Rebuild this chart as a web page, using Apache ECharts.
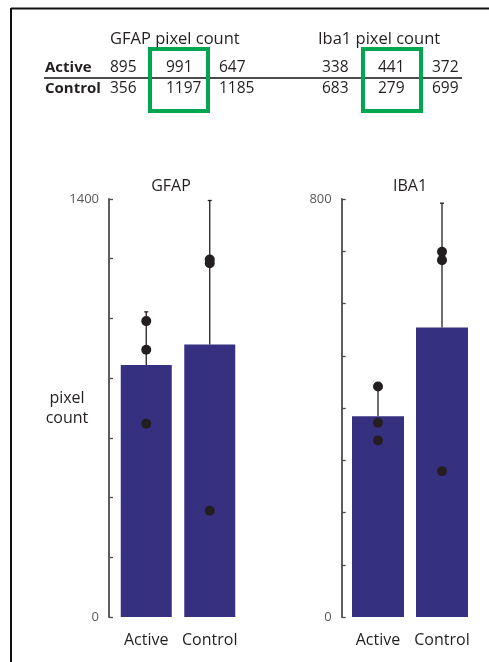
<!DOCTYPE html>
<html>
<head>
<meta charset="utf-8">
<title>GFAP / IBA1 pixel count</title>
<script src="https://cdn.jsdelivr.net/npm/echarts@6/dist/echarts.min.js"></script>
<style>
  html, body { margin: 0; padding: 0; background: #fff; }
  #main { width: 489px; height: 662px; }
</style>
</head>
<body>
<div id="main"></div>
<script type="text/javascript">
    // groups and raw pixel counts (table at the top)
    var groups = ['Active', 'Control'];
    var gfapActive = [895, 991, 647];
    var gfapControl = [356, 1197, 1185];
    var iba1Active = [338, 441, 372];
    var iba1Control = [683, 279, 699];

    // bar heights and top of the whiskers
    var gfapMean = [844, 913];
    var gfapUpper = [1022, 1395];
    var iba1Mean = [384, 554];
    var iba1Upper = [436, 792];

    var FONT = '"Open Sans", sans-serif';
    var INK = '#231f20';
    var BAR = '#35307f';
    var AXIS = '#4d4d4f';

    var myChart = echarts.init(document.getElementById('main'));

    function dots(a, c) {
        var out = [];
        a.forEach(function (v) { out.push([0, v]); });
        c.forEach(function (v) { out.push([1, v]); });
        return out;
    }

    function whiskers(mean, upper) {
        return mean.map(function (m, i) { return [i, m, upper[i]]; });
    }

    function renderWhisker(params, api) {
        var lo = api.coord([api.value(0), api.value(1)]);
        var hi = api.coord([api.value(0), api.value(2)]);
        var st = { stroke: INK, lineWidth: 1.3 };
        return {
            type: 'group',
            children: [
                { type: 'line', shape: { x1: lo[0], y1: lo[1], x2: hi[0], y2: hi[1] }, style: st },
                { type: 'line', shape: { x1: hi[0] - 2, y1: hi[1], x2: hi[0] + 2, y2: hi[1] }, style: st }
            ]
        };
    }

    function yAxisFor(max, step, offset, idx) {
        return {
            type: 'value', gridIndex: idx, min: 0, max: max, interval: step, offset: offset,
            splitLine: { show: false },
            axisLine: { show: true, lineStyle: { color: AXIS, width: 1.8 } },
            axisTick: { show: true, inside: true, length: 4, lineStyle: { color: AXIS, width: 1.3 } },
            axisLabel: {
                margin: 10, color: '#58595b', fontFamily: FONT, fontSize: 13,
                formatter: function (v) { return (v === 0 || v === max) ? String(v) : ''; }
            }
        };
    }

    function xAxisFor(idx) {
        return {
            type: 'category', gridIndex: idx, data: groups,
            axisLine: { show: false }, axisTick: { show: false },
            axisLabel: { interval: 0, margin: 15, color: INK, fontFamily: FONT, fontSize: 16 }
        };
    }

    // text pieces placed by their middle line
    function txt(x, y, s, size, bold, align) {
        return {
            type: 'text',
            style: {
                x: x, y: y, text: s, fill: INK, align: align || 'left', verticalAlign: 'middle',
                font: (bold ? 'bold ' : '') + size + 'px ' + FONT
            }
        };
    }

    var graphics = [];
    graphics.push(txt(110, 39, 'GFAP pixel count', 16.5));
    graphics.push(txt(318, 39, 'Iba1 pixel count', 16.5));
    graphics.push(txt(45, 68, 'Active', 15, true));
    graphics.push(txt(45, 89, 'Control', 15, true));
    var gX = [110, 166, 219], iX = [322, 378, 432];
    gfapActive.forEach(function (v, i) { graphics.push(txt(gX[i], 68, String(v), 15.5)); });
    gfapControl.forEach(function (v, i) { graphics.push(txt(gX[i], 89, String(v), 15.5)); });
    iba1Active.forEach(function (v, i) { graphics.push(txt(iX[i], 68, String(v), 15.5)); });
    iba1Control.forEach(function (v, i) { graphics.push(txt(iX[i], 89, String(v), 15.5)); });
    graphics.push(txt(67, 398, 'pixel', 16, false, 'center'));
    graphics.push(txt(67, 418, 'count', 16, false, 'center'));

    graphics = graphics.concat([
        // frame (only left and top edges are in view)
        { type: 'line', shape: { x1: 11, y1: 8.5, x2: 489, y2: 8.5 }, style: { stroke: '#111', lineWidth: 2 } },
        { type: 'line', shape: { x1: 11, y1: 8, x2: 11, y2: 662 }, style: { stroke: '#111', lineWidth: 2 } },
        { type: 'line', shape: { x1: 44, y1: 78, x2: 462, y2: 78 }, style: { stroke: '#111', lineWidth: 1.3 } },
        { type: 'rect', shape: { x: 150, y: 49, width: 58, height: 62 }, style: { fill: null, stroke: '#00a651', lineWidth: 4 } },
        { type: 'rect', shape: { x: 363, y: 49, width: 58, height: 62 }, style: { fill: null, stroke: '#00a651', lineWidth: 4 } }
    ]);

    myChart.setOption({
        animation: false,
        title: [
            { text: 'GFAP', left: 166, top: 173, textAlign: 'center',
              textStyle: { color: INK, fontFamily: FONT, fontSize: 16, fontWeight: 'normal' } },
            { text: 'IBA1', left: 405, top: 173, textAlign: 'center',
              textStyle: { color: INK, fontFamily: FONT, fontSize: 16, fontWeight: 'normal' } }
        ],
        grid: [
            { left: 114.5, top: 199, width: 127, height: 418 },
            { left: 346, top: 199, width: 128, height: 418 }
        ],
        xAxis: [xAxisFor(0), xAxisFor(1)],
        yAxis: [yAxisFor(1400, 200, 5.5, 0), yAxisFor(800, 100, 4.3, 1)],
        graphic: graphics,
        series: [
            { type: 'bar', xAxisIndex: 0, yAxisIndex: 0, data: gfapMean, barWidth: 51,
              itemStyle: { color: BAR }, z: 2 },
            { type: 'custom', xAxisIndex: 0, yAxisIndex: 0, data: whiskers(gfapMean, gfapUpper),
              renderItem: renderWhisker, z: 3 },
            { type: 'scatter', xAxisIndex: 0, yAxisIndex: 0, data: dots(gfapActive, gfapControl),
              symbolSize: 10, itemStyle: { color: INK, opacity: 1 }, z: 4 },
            { type: 'bar', xAxisIndex: 1, yAxisIndex: 1, data: iba1Mean, barWidth: 52,
              itemStyle: { color: BAR }, z: 2 },
            { type: 'custom', xAxisIndex: 1, yAxisIndex: 1, data: whiskers(iba1Mean, iba1Upper),
              renderItem: renderWhisker, z: 3 },
            { type: 'scatter', xAxisIndex: 1, yAxisIndex: 1, data: dots(iba1Active, iba1Control),
              symbolSize: 10, itemStyle: { color: INK, opacity: 1 }, z: 4 }
        ]
    });
</script>
</body>
</html>
